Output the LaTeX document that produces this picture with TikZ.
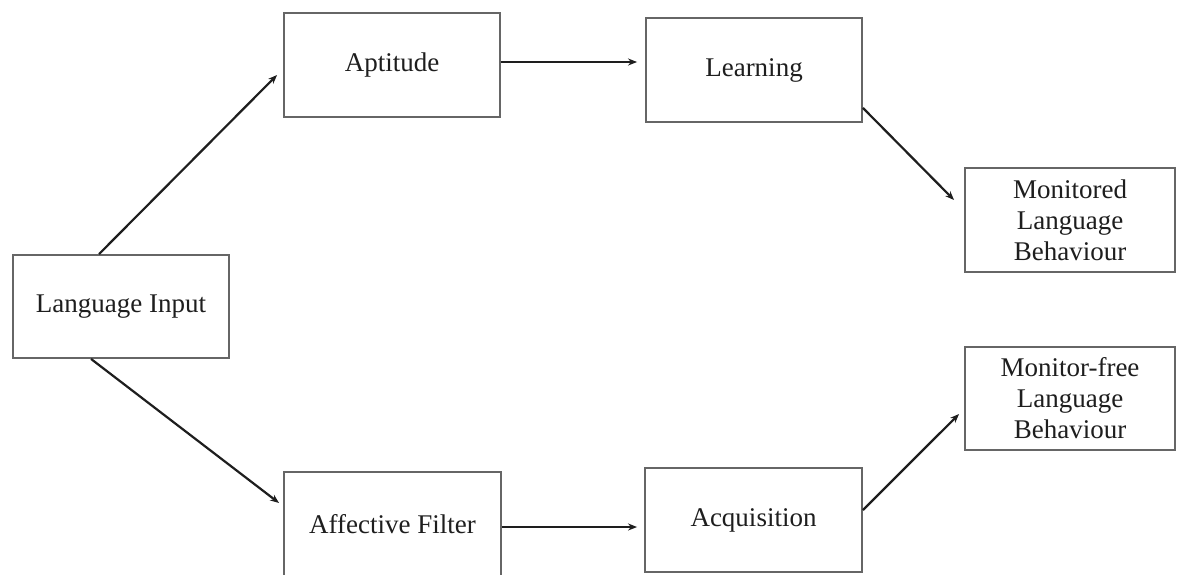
\documentclass[tikz,border=0pt]{standalone}
\usepackage{fontspec}
\setmainfont{Liberation Serif}
\usetikzlibrary{arrows.meta}
\definecolor{boxline}{HTML}{666666}
\definecolor{ink}{HTML}{1E1E1E}
\begin{document}
\begin{tikzpicture}[x=1pt,y=-1pt,
  box/.style={draw=boxline, line width=1.9pt, rectangle, inner sep=0pt,
    minimum width=216pt, minimum height=104pt, align=center,
    text=ink, font=\fontsize{27}{31}\selectfont},
  conn/.style={draw=ink, line width=2.2pt, -{Stealth[length=9pt,width=7pt]}}
]
\clip (0,0) rectangle (1177,574);
\fill[white] (0,0) rectangle (1177,574);

\node[box, minimum height=103pt] (LI) at (121,306.5) {Language Input};
\node[box] (apt) at (392,65) {Aptitude};
\node[box] (learn) at (754,70) {Learning};
\node[box, minimum width=210pt] (mon) at (1070,220) {Monitored\\Language\\Behaviour};
\node[box, minimum width=210pt, minimum height=103pt] (free) at (1070,398.5) {Monitor-free\\Language\\Behaviour};
\node[box, minimum width=217pt] (aff) at (392.5,524) {Affective Filter};
\node[box, minimum width=217pt] (acq) at (753.5,520) {Acquisition};

\draw[conn] ([xshift=87pt]LI.north west) -- ([xshift=-6pt,yshift=-10pt]apt.west);
\draw[conn] ([xshift=79pt]LI.south west) -- ([xshift=-4pt,yshift=21pt]aff.west);
\draw[conn] ([yshift=3pt]apt.east) -- ([xshift=-8pt,yshift=8pt]learn.west);
\draw[conn] ([yshift=15pt]learn.south east) -- ([xshift=-10pt,yshift=20pt]mon.west);
\draw[conn] ([yshift=-3pt]aff.east) -- ([xshift=-7pt,yshift=-7pt]acq.west);
\draw[conn] ([yshift=10pt]acq.east) -- ([xshift=-5pt,yshift=-15.5pt]free.west);
\end{tikzpicture}
\end{document}
